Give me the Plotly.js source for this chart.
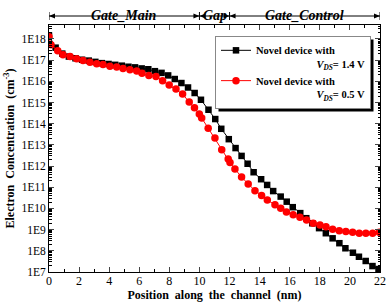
<!DOCTYPE html>
<html><head><meta charset="utf-8">
<script src="https://cdn.plot.ly/plotly-3.0.1.min.js"></script>
<style>html,body{margin:0;padding:0;background:#fff}#c{width:387px;height:305px}</style>
</head><body><div id="c"></div>
<script>
// Data (position in nm, electron concentration in cm^-3 as log10)
const xHigh = [0,0.44,0.88,1.32,1.76,2.2,2.64,3.08,3.52,3.96,4.4,4.84,5.28,5.72,6.16,6.6,7.04,7.48,7.92,8.36,8.8,9.24,9.68,10.1,10.6,11.05,11.45,11.95,12.4,12.8,13.2,13.6,14.1,14.5,14.9,15.4,15.8,16.2,16.7,17.1,17.5,17.95,18.4,18.85,19.3,19.7,20.2,20.6,21.05,21.5,21.9];
const logHigh = [18.16,17.59,17.31,17.17,17.09,17.02,16.98,16.92,16.86,16.82,16.78,16.74,16.69,16.66,16.61,16.57,16.48,16.40,16.28,16.11,15.92,15.71,15.45,15.13,14.66,14.22,13.76,13.27,12.85,12.48,12.11,11.71,11.38,11.11,10.82,10.56,10.32,10.06,9.78,9.54,9.30,9.07,8.83,8.59,8.36,8.12,7.91,7.72,7.52,7.28,7.14];
const xLow = [0,0.13,0.58,0.93,1.40,1.84,2.26,2.72,3.17,3.59,4.05,4.50,4.92,5.38,5.83,6.18,6.64,7.11,7.55,7.99,8.44,8.88,9.32,9.67,9.99,10.15,10.58,11.03,11.48,11.91,12.03,12.36,12.80,13.24,13.69,14.13,14.51,15.02,15.40,15.78,16.23,16.68,17.12,17.56,18.01,18.41,18.85,19.29,19.73,20.18,20.62,21.06,21.51,21.95];
const logLow = [18.10,17.73,17.45,17.26,17.17,17.07,16.98,16.90,16.83,16.79,16.71,16.68,16.61,16.55,16.49,16.38,16.28,16.23,16.03,15.83,15.64,15.40,15.02,14.75,14.46,14.27,13.79,13.32,12.77,12.33,12.17,11.86,11.48,11.16,10.84,10.61,10.40,10.17,10.01,9.83,9.70,9.59,9.46,9.30,9.22,9.14,9.02,8.95,8.91,8.88,8.83,8.83,8.83,8.88];
const seriesNames = ["Novel device with<br>                       <i>V<sub>DS</sub></i>= 1.4 V",
                     "Novel device with<br>                       <i>V<sub>DS</sub></i>= 0.5 V"];
const decades = [7,8,9,10,11,12,13,14,15,16,17,18];
const yTickText = decades.map(d => "1E" + d);
const xTicks = [0,2,4,6,8,10,12,14,16,18,20,22];
const regions = [{name:"Gate_Main", from:0, to:10},{name:"Gap", from:10, to:12},{name:"Gate_Control", from:12, to:22}];

const pow = a => a.map(v => Math.pow(10, v));
const minorVals = [];
decades.forEach(d => { for (let k = 2; k <= 9; k++) minorVals.push(k * Math.pow(10, d)); });

const font = "Liberation Serif, Times New Roman, serif";
const traces = [
  {x: xHigh, y: pow(logHigh), name: seriesNames[0], mode: "lines+markers", type: "scatter",
   line: {color: "black", width: 1}, marker: {symbol: "square", size: 6.5, color: "black"}},
  {x: xLow, y: pow(logLow), name: seriesNames[1], mode: "lines+markers", type: "scatter",
   line: {color: "red", width: 1}, marker: {symbol: "circle", size: 7.5, color: "red"}}
];

// plot-area geometry (px) used to convert pixel offsets of decorations
const L = 49, T = 25, W = 331, H = 247;
const pxX = 22 / W;       // nm per px
const pxY = 1 / H;        // paper per px

const annotations = regions.map(r => ({
  x: (r.from + r.to) / 2, xref: "x", y: 1.077, yref: "paper", showarrow: false,
  text: "<b><i>" + r.name + "</i></b>", font: {family: font, size: 14, color: "black"}
}));
const shapes = [];
const ay = 1 + 9 * pxY;
regions.forEach(r => {
  shapes.push({type: "line", xref: "x", yref: "paper", x0: r.from, x1: r.to, y0: ay, y1: ay, line: {color: "black", width: 1}});
  const hl = 6 * pxX, hw = 2.5 * pxY;
  shapes.push({type: "path", xref: "x", yref: "paper",
    path: `M${r.from},${ay} L${r.from + hl},${ay + hw} L${r.from + hl},${ay - hw} Z`, fillcolor: "black", line: {width: 0}});
  shapes.push({type: "path", xref: "x", yref: "paper",
    path: `M${r.to},${ay} L${r.to - hl},${ay + hw} L${r.to - hl},${ay - hw} Z`, fillcolor: "black", line: {width: 0}});
});
[0,10,12,22].forEach(b => shapes.push({type: "line", xref: "x", yref: "paper", x0: b, x1: b, y0: ay - 4 * pxY, y1: ay + 4 * pxY,
  line: {color: "black", width: 1}}));

const layout = {
  width: 387, height: 305,
  margin: {l: L, r: 387 - L - W, t: T, b: 305 - T - H},
  paper_bgcolor: "white", plot_bgcolor: "white",
  font: {family: font, color: "black", size: 12},
  showlegend: true,
  legend: {x: (215-L)/W, y: (272-36)/H, xanchor: "left", yanchor: "top",
    bgcolor: "white", bordercolor: "#888", borderwidth: 1, valign: "top",
    font: {family: font, size: 10.5, color: "black", weight: "bold"}, itemwidth: 30, tracegroupgap: 0},
  xaxis: {range: [0, 22], tickvals: xTicks, ticktext: xTicks.map(String), ticks: "inside", ticklen: 5,
    showline: true, linecolor: "black", linewidth: 1, mirror: "ticks", showgrid: false, zeroline: false,
    tickfont: {family: font, size: 12}, ticklabelstandoff: -2,
    minor: {tickvals: [1,3,5,7,9,11,13,15,17,19,21], ticks: "inside", ticklen: 3, tickcolor: "black", showgrid: false},
    title: {text: "<b>Position  along  the  channel  (nm)</b>", font: {family: font, size: 12}, standoff: 0}},
  yaxis: {type: "log", range: [7, 18.66], tickvals: decades.map(d => Math.pow(10, d)), ticktext: yTickText,
    ticks: "inside", ticklen: 5, showline: true, linecolor: "black", linewidth: 1, mirror: "ticks",
    showgrid: false, zeroline: false, tickfont: {family: font, size: 11.5},
    minor: {tickvals: minorVals, ticks: "inside", ticklen: 2.5, tickcolor: "black", showgrid: false},
    title: {text: "<b>Electron  Concentration  (cm<sup>-3</sup>)</b>", font: {family: font, size: 12}, standoff: 4}},
  annotations: annotations,
  shapes: shapes
};
Plotly.newPlot("c", traces, layout, {displayModeBar: false, staticPlot: true}).then(gd => {
  const bg = gd.querySelector(".legend .bg");
  if (!bg) return;
  const r = bg.getBoundingClientRect();
  const off = 3;
  const shadow = {type: "rect", xref: "paper", yref: "paper",
    x0: (r.left + off - L) / W, x1: (r.right + off - L) / W,
    y0: (T + H - (r.bottom + off)) / H, y1: (T + H - (r.top + off)) / H,
    fillcolor: "black", line: {width: 0}, layer: "above"};
  Plotly.relayout(gd, {shapes: shapes.concat([shadow])});
});
</script></body></html>
